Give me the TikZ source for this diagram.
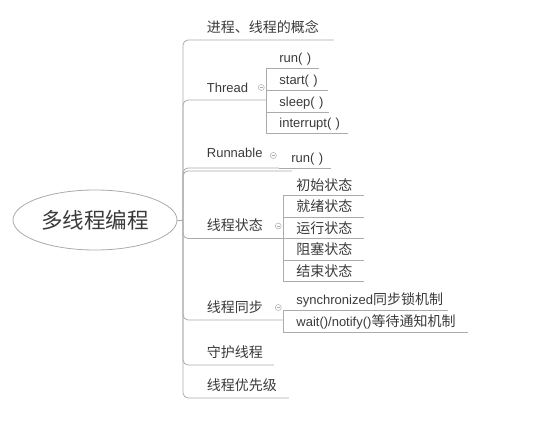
\documentclass[tikz,border=0pt]{standalone}
\usepackage{fontspec}
\setmainfont{Liberation Sans}
\newfontfamily\cjk{Noto Sans CJK SC}[Scale=1.077]
\usepackage{tikz}
\usetikzlibrary{shapes.geometric}
\definecolor{txt}{HTML}{3A3A3A}
\definecolor{wire}{HTML}{ABABAB}

\begin{document}
\begin{tikzpicture}[x=1pt,y=-1pt,line width=0.8pt,
    root/.style={shape=ellipse,draw=wire,minimum width=164pt,minimum height=60pt,inner sep=0pt,text=txt,font=\fontsize{20}{24}\selectfont\cjk},
    topic/.style={anchor=south west,inner xsep=0pt,inner ysep=5.5pt,text height=10pt,text depth=2pt,align=left,text=txt,font=\fontsize{13}{15}\selectfont},
    sub/.style={topic,inner ysep=3pt},
    fold/.style={shape=circle,draw=wire,line width=0.5pt,minimum size=6pt,inner sep=0pt,
        path picture={\draw[wire,line width=0.5pt] ([xshift=1.3pt]path picture bounding box.west) -- ([xshift=-1.3pt]path picture bounding box.east);}},
    link/.style={draw=wire},
    elbow/.style={link,rounded corners=5pt,to path={|- (\tikztotarget)}},
    square/.style={link,to path={|- (\tikztotarget)}}]

        \useasboundingbox (0,0) rectangle (554,427);

        \node[root] (root) at (95,220) {多线程编程};
        \coordinate (hub) at (183,220);
        \coordinate (statetop) at (292,171);

        \node[topic,text width=150pt] (concept) at (183,40) {\hspace*{23.5pt}{\cjk 进程、线程的概念}};
        \node[topic,text width=83pt] (thread) at (183,100) {\hspace*{23.5pt}Thread};
        \node[topic,text width=95pt,inner ysep=8pt] (runnable) at (183,168) {\hspace*{23.5pt}Runnable};
        \node[topic,text width=100pt] (state) at (183,238.5) {\hspace*{23.5pt}{\cjk 线程状态}};
        \node[topic,text width=100pt] (sync) at (183,320) {\hspace*{23.5pt}{\cjk 线程同步}};
        \node[topic,text width=90pt] (daemon) at (183,365) {\hspace*{23.5pt}{\cjk 守护线程}};
        \node[topic,text width=105pt] (priority) at (183,398) {\hspace*{23.5pt}{\cjk 线程优先级}};

        \node[sub,text width=52pt] (run) at (266,68) {\hspace*{13pt}run( )};
        \node[sub,text width=61pt] (start) at (266,90) {\hspace*{13pt}start( )};
        \node[sub,text width=62pt] (sleep) at (266,112) {\hspace*{13pt}sleep( )};
        \node[sub,text width=81pt] (interrupt) at (266,133) {\hspace*{13pt}interrupt( )};

        \node[sub,text width=52pt] (runnablerun) at (278,168) {\hspace*{13pt}run( )};

        \node[sub,text width=80pt] (init) at (283,195.5) {\hspace*{13pt}{\cjk 初始状态}};
        \node[sub,text width=80pt] (ready) at (283,217) {\hspace*{13pt}{\cjk 就绪状态}};
        \node[sub,text width=80pt] (running) at (283,238.5) {\hspace*{13pt}{\cjk 运行状态}};
        \node[sub,text width=80pt] (blocked) at (283,260) {\hspace*{13pt}{\cjk 阻塞状态}};
        \node[sub,text width=80pt] (dead) at (283,281.5) {\hspace*{13pt}{\cjk 结束状态}};

        \node[sub,text width=164pt] (lock) at (283,310) {\hspace*{13pt}synchronized{\cjk 同步锁机制}};
        \node[sub,text width=184pt] (notify) at (283,332) {\hspace*{13pt}wait()/notify(){\cjk 等待通知机制}};

        \node[fold] (threadfold) at ([xshift=-5.5pt,yshift=12.5pt]thread.south east) {};
        \node[fold] (runnablefold) at ([xshift=-5.5pt,yshift=12.5pt]runnable.south east) {};
        \node[fold] (statefold) at ([xshift=-5.5pt,yshift=12.5pt]state.south east) {};
        \node[fold] (syncfold) at ([xshift=-5.5pt,yshift=12.5pt]sync.south east) {};

        \path (root.east) edge[link] (hub);
        \path (hub) edge[elbow] (concept.south east);
        \path (hub) edge[elbow] (thread.south east);
        \path (hub) edge[elbow] (runnable.south east);
        \path (hub) edge[elbow] (statetop);
        \path (hub) edge[elbow] (state.south east);
        \path (hub) edge[elbow] (sync.south east);
        \path (hub) edge[elbow] (daemon.south east);
        \path (hub) edge[elbow] (priority.south east);

        \path (thread.south east) edge[square] (run.south east);
        \path (thread.south east) edge[square] (start.south east);
        \path (thread.south east) edge[square] (sleep.south east);
        \path (thread.south east) edge[square] (interrupt.south east);

        \path (runnable.south east) edge[link] (runnablerun.south east);

        \path (state.south east) edge[square] (init.south east);
        \path (state.south east) edge[square] (ready.south east);
        \path (state.south east) edge[square] (running.south east);
        \path (state.south east) edge[square] (blocked.south east);
        \path (state.south east) edge[square] (dead.south east);

        \path (sync.south east) edge[square] (lock.south east);
        \path (sync.south east) edge[square] (notify.south east);

    \end{tikzpicture}
\end{document}
